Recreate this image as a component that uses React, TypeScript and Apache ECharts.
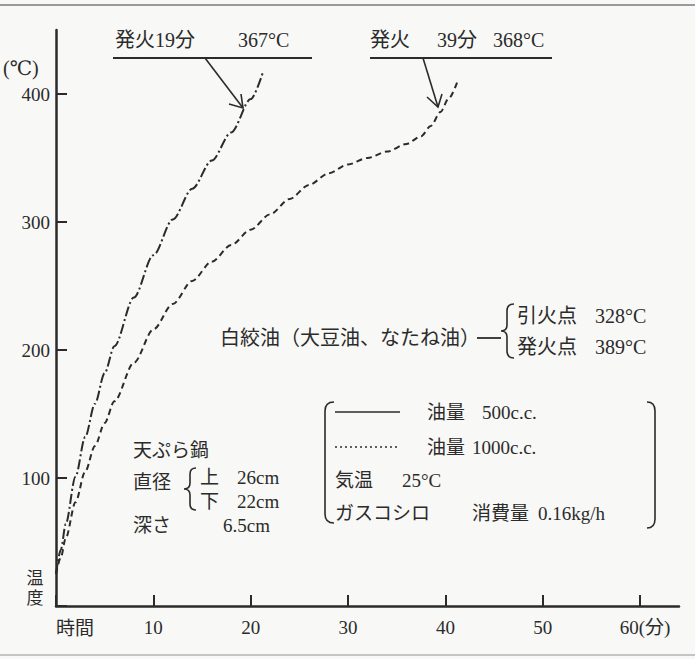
import React, { useEffect, useRef } from 'react';
import * as echarts from 'echarts';

// 油量 500cc (dash-dot curve): time (min) / temperature (°C)
const time500 = [0, 0.5, 1, 2, 3, 4, 5, 6, 8, 10, 12, 14, 16, 18, 20, 21.3];
const temp500 = [25, 44, 64, 101, 132, 158, 182, 203, 241, 274, 302, 326, 348, 370, 396, 418];

// 油量 1000cc (dashed curve)
const time1000 = [0, 0.5, 1, 2, 3, 4, 5, 6, 8, 10, 12, 14, 16, 18, 20, 22, 24, 26, 28, 30, 32, 34, 36, 37.5, 38.5, 39.5, 40.3, 41.2];
const temp1000 = [25, 38, 53, 81, 105, 125, 143, 160, 190, 216, 236, 254, 269, 282, 294, 306, 318, 329, 338, 345, 350, 355, 361, 367, 375, 386, 396, 409];

const xMin = 0;
const xMax = 64;
const xTicks = [0, 10, 20, 30, 40, 50, 60];
const yMin = 0;
const yMax = 450;
const yTicks = [0, 100, 200, 300, 400];
const xLastLabel = '60(分)';

const ink = '#2b2b2b';
const serif = "'Liberation Serif','DejaVu Serif','Noto Sans CJK JP',serif";

const shapes: Record<string, string> = {
  braceOil: 'M514,304 Q507,304 507,311 L507,325 Q507,331 501,331 Q507,331 507,337 L507,351 Q507,358 514,358',
  braceDia: 'M196,468 Q190,468 190,474 L190,483 Q190,489 184,489 Q190,489 190,495 L190,504 Q190,510 196,510',
  bracketL: 'M334,402 Q325,402 325,411 L325,514 Q325,523 334,523',
  bracketR: 'M647,402 Q655,402 655,411 L655,519 Q655,528 647,528',
};
Object.keys(shapes).forEach((k) => {
  echarts.graphic.registerShape(k, echarts.graphic.extendPath(shapes[k], {}) as any);
});

function txt(text: string, x: number, y: number, size = 19, align = 'left', extra: any = {}) {
  return {
    type: 'text',
    x,
    y,
    silent: true,
    style: {
      text,
      fill: ink,
      fontSize: size,
      fontFamily: serif,
      align,
      verticalAlign: 'middle',
      ...extra,
    },
  };
}

function line(x1: number, y1: number, x2: number, y2: number, w = 2, dash: any = null) {
  return {
    type: 'line',
    silent: true,
    shape: { x1, y1, x2, y2 },
    style: { stroke: ink, lineWidth: w, lineDash: dash },
  };
}

function poly(points: number[][], w = 1.6) {
  return {
    type: 'polyline',
    silent: true,
    shape: { points },
    style: { stroke: ink, lineWidth: w, fill: null },
  };
}

function shape(name: string, w = 1.6) {
  return { type: name, silent: true, style: { stroke: ink, fill: null, lineWidth: w } };
}

export default function App() {
  const ref = useRef<HTMLDivElement>(null);

  useEffect(() => {
    if (!ref.current) return;
    const chart = echarts.init(ref.current, undefined, { renderer: 'svg' });

    const graphic: any[] = [
      // frame lines of the scan
      { type: 'rect', silent: true, shape: { x: 0, y: 4, width: 695, height: 2 }, style: { fill: '#9a9a9a' } },
      { type: 'rect', silent: true, shape: { x: 0, y: 654, width: 695, height: 2 }, style: { fill: '#c4c4c4' } },

      // annotation 1
      txt('発火19分', 115, 40, 20),
      txt('367°C', 238, 40, 20),
      line(113, 58, 312, 58, 2),
      poly([[205, 58], [243, 108]]),
      poly([[241, 94], [243, 108], [229, 104]]),

      // annotation 2
      txt('発火', 370, 40, 20),
      txt('39分', 437, 40, 20),
      txt('368°C', 493, 40, 20),
      line(370, 58, 552, 58, 2),
      poly([[423, 58], [438, 107]]),
      poly([[427, 97], [438, 107], [442, 94]]),

      // axis captions
      txt('(℃)', 3, 68, 20),
      txt('温', 35, 578, 17, 'center'),
      txt('度', 35, 598, 17, 'center'),
      txt('時間', 56, 628, 19),

      // oil info
      txt('白絞油（大豆油、なたね油）', 220, 338, 20),
      line(477, 338, 501, 338, 1.8),
      shape('braceOil'),
      txt('引火点', 517, 316, 20),
      txt('328°C', 595, 316, 20),
      txt('発火点', 517, 347, 20),
      txt('389°C', 595, 347, 20),

      // pot info
      txt('天ぷら鍋', 133, 450, 19),
      txt('直径', 133, 482, 19),
      shape('braceDia'),
      txt('上', 200, 477, 19),
      txt('下', 200, 501, 19),
      txt('26cm', 237, 477, 19),
      txt('22cm', 237, 501, 19),
      txt('深さ', 133, 525, 19),
      txt('6.5cm', 223, 525, 19),

      // legend box
      shape('bracketL'),
      shape('bracketR'),
      line(335, 412, 400, 412, 1.5),
      txt('油量', 427, 412, 19),
      txt('500c.c.', 482, 412, 19),
      line(335, 447, 400, 447, 1.5, [2, 3]),
      txt('油量', 427, 447, 19),
      txt('1000c.c.', 472, 447, 19),
      txt('気温', 335, 480, 19),
      txt('25°C', 402, 480, 19),
      txt('ガスコシロ', 335, 513, 19, 'left', { lineHeight: 19 }),
      txt('消費量', 472, 513, 19),
      txt('0.16kg/h', 538, 513, 19),
    ];

    chart.setOption({
      animation: false,
      backgroundColor: '#f8f8f6',
      grid: { left: 56, top: 30, width: 623, height: 576, containLabel: false },
      xAxis: {
        type: 'value',
        min: xMin,
        max: xMax,
        axisLine: { show: true, onZero: false, lineStyle: { color: ink, width: 2.5 } },
        axisTick: { show: true, inside: true, length: 11, customValues: xTicks, lineStyle: { color: ink, width: 2 } },
        axisLabel: {
          color: ink,
          fontFamily: serif,
          fontSize: 19,
          margin: 12,
          customValues: xTicks,
          formatter: (v: number) => (v === 0 ? '' : v === 60 ? '{a|' + xLastLabel + '}' : String(v)),
          rich: { a: { fontFamily: serif, fontSize: 19, color: ink, padding: [0, 0, 0, 10] } },
        },
        splitLine: { show: false },
      },
      yAxis: {
        type: 'value',
        min: yMin,
        max: yMax,
        axisLine: { show: true, onZero: false, lineStyle: { color: ink, width: 2.5 } },
        axisTick: { show: true, inside: true, length: 11, customValues: yTicks, lineStyle: { color: ink, width: 2 } },
        axisLabel: {
          color: ink,
          fontFamily: serif,
          fontSize: 19,
          margin: 6,
          customValues: yTicks,
          formatter: (v: number) => (v === 0 ? '' : String(v)),
        },
        splitLine: { show: false },
      },
      series: [
        {
          name: '油量 500c.c.',
          type: 'line',
          data: time500.map((t, i) => [t, temp500[i]]),
          symbol: 'none',
          smooth: 0.3,
          smoothMonotone: 'x',
          lineStyle: { color: ink, width: 2, type: [10, 3, 2, 3] },
        },
        {
          name: '油量 1000c.c.',
          type: 'line',
          data: time1000.map((t, i) => [t, temp1000[i]]),
          symbol: 'none',
          smooth: 0.3,
          smoothMonotone: 'x',
          lineStyle: { color: ink, width: 2, type: [6, 4] },
        },
      ],
      graphic,
    });

    return () => chart.dispose();
  }, []);

  return (
    <div
      ref={ref}
      style={{ position: 'absolute', left: 0, top: 0, width: 695, height: 659 }}
    />
  );
}
